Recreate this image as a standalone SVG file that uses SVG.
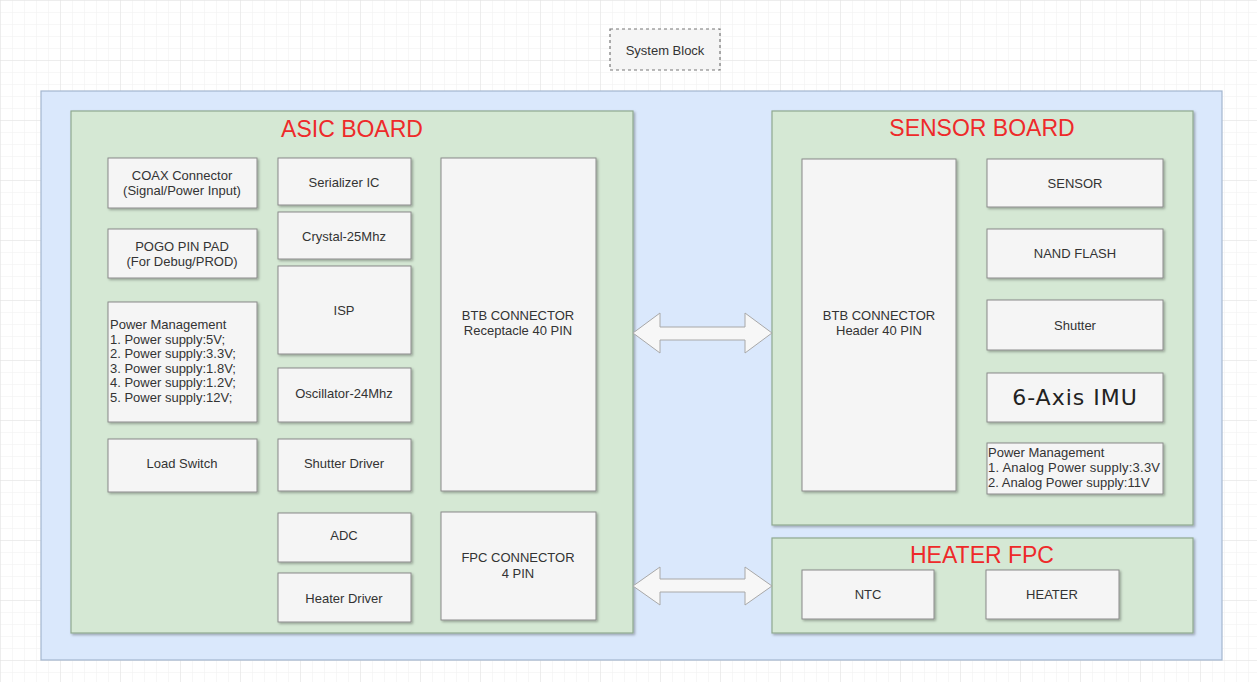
<svg xmlns="http://www.w3.org/2000/svg" width="1257" height="682" viewBox="0 0 1257 682">
<defs>
<pattern id="minor" width="12" height="12" patternUnits="userSpaceOnUse">
<path d="M12 0H0V12" fill="none" stroke="#f0f0f0" stroke-width="1"/>
</pattern>
<pattern id="major" width="60" height="60" patternUnits="userSpaceOnUse">
<rect width="60" height="60" fill="url(#minor)"/>
<path d="M60 0H0V60" fill="none" stroke="#e2e2e2" stroke-width="1"/>
</pattern>
<filter id="sh" x="-10%" y="-10%" width="130%" height="130%">
<feDropShadow dx="1.5" dy="1.5" stdDeviation="0.8" flood-color="#000" flood-opacity="0.3"/>
</filter>
</defs>
<style>
.box{fill:#f5f5f5;stroke:#8a8a8a;stroke-width:1;filter:url(#sh)}
.board{fill:#d5e8d4;stroke:#8fa88f;stroke-width:1.2;filter:url(#sh)}
.t{font-family:"Liberation Sans",Arial,sans-serif;font-size:13px;fill:#333;text-anchor:middle}
.tl{font-family:"Liberation Sans",Arial,sans-serif;font-size:13px;fill:#333}
.title{font-family:"Liberation Sans",Arial,sans-serif;font-size:23px;fill:#ee2a2a;text-anchor:middle}
.arrow{fill:#f7f7f7;stroke:#a8a8a8;stroke-width:1}
</style>
<rect width="1257" height="682" fill="#ffffff"/>
<rect width="1257" height="682" fill="url(#major)"/>

<g id="system-block">
<rect x="610" y="29" width="110" height="41" fill="#f5f5f5" stroke="#777" stroke-width="1.2" stroke-dasharray="3,3"/>
<text class="t" x="665" y="55" font-size="14">System Block</text>
</g>

<g id="system">
<rect x="41" y="91" width="1181" height="569" fill="#dae8fc" stroke="#a4b6cf" stroke-width="1.2"/>
</g>

<g id="asic-board">
<rect class="board" x="71" y="111" width="562" height="522"/>
<text class="title" x="352" y="137">ASIC BOARD</text>
</g>

<g id="coax"><rect class="box" x="108" y="158" width="149" height="50"/>
<text class="t" x="182" y="180">COAX Connector</text><text class="t" x="182" y="195">(Signal/Power Input)</text></g>
<g id="pogo"><rect class="box" x="108" y="229" width="149" height="49"/>
<text class="t" x="182" y="251">POGO PIN PAD</text><text class="t" x="182" y="266">(For Debug/PROD)</text></g>
<g id="asic-power"><rect class="box" x="108" y="302" width="149" height="120"/>
<text class="tl" x="110" y="329">Power Management</text>
<text class="tl" x="110" y="344">1. Power supply:5V;</text>
<text class="tl" x="110" y="358">2. Power supply:3.3V;</text>
<text class="tl" x="110" y="373">3. Power supply:1.8V;</text>
<text class="tl" x="110" y="387">4. Power supply:1.2V;</text>
<text class="tl" x="110" y="402">5. Power supply:12V;</text></g>
<g id="load-switch"><rect class="box" x="108" y="439" width="149" height="53"/>
<text class="t" x="182" y="468">Load Switch</text></g>

<g id="serializer"><rect class="box" x="278" y="158" width="133" height="47"/>
<text class="t" x="344" y="187">Serializer IC</text></g>
<g id="crystal"><rect class="box" x="278" y="212" width="133" height="47"/>
<text class="t" x="344" y="241">Crystal-25Mhz</text></g>
<g id="isp"><rect class="box" x="278" y="266" width="133" height="88"/>
<text class="t" x="344" y="315">ISP</text></g>
<g id="oscillator"><rect class="box" x="278" y="368" width="133" height="54"/>
<text class="t" x="344" y="398">Oscillator-24Mhz</text></g>
<g id="shutter-driver"><rect class="box" x="278" y="439" width="133" height="52"/>
<text class="t" x="344" y="468">Shutter Driver</text></g>
<g id="adc"><rect class="box" x="278" y="513" width="133" height="49"/>
<text class="t" x="344" y="540">ADC</text></g>
<g id="heater-driver"><rect class="box" x="278" y="573" width="133" height="49"/>
<text class="t" x="344" y="603">Heater Driver</text></g>

<g id="btb-receptacle"><rect class="box" x="441" y="158" width="155" height="333"/>
<text class="t" x="518" y="320">BTB CONNECTOR</text><text class="t" x="518" y="335">Receptacle 40 PIN</text></g>
<g id="fpc-connector"><rect class="box" x="441" y="512" width="155" height="108"/>
<text class="t" x="518" y="562">FPC CONNECTOR</text><text class="t" x="518" y="578">4 PIN</text></g>

<g id="sensor-board">
<rect class="board" x="772" y="111" width="421" height="414"/>
<text class="title" x="982" y="136">SENSOR BOARD</text>
</g>
<g id="btb-header"><rect class="box" x="802" y="159" width="154" height="332"/>
<text class="t" x="879" y="320">BTB CONNECTOR</text><text class="t" x="879" y="335">Header 40 PIN</text></g>
<g id="sensor"><rect class="box" x="987" y="159" width="176" height="48"/>
<text class="t" x="1075" y="188">SENSOR</text></g>
<g id="nand"><rect class="box" x="987" y="229" width="176" height="49"/>
<text class="t" x="1075" y="258">NAND FLASH</text></g>
<g id="shutter"><rect class="box" x="987" y="300" width="176" height="50"/>
<text class="t" x="1075" y="330">Shutter</text></g>
<g id="imu"><rect class="box" x="987" y="373" width="176" height="49"/>
<text class="t" x="1075" y="405" style="font-family:'DejaVu Sans',sans-serif;font-size:22px;letter-spacing:1px;fill:#222">6-Axis IMU</text></g>
<g id="sensor-power"><rect class="box" x="987" y="443" width="176" height="51"/>
<text class="tl" x="988" y="457">Power Management</text>
<text class="tl" x="988" y="472" textLength="172" lengthAdjust="spacing">1. Analog Power supply:3.3V</text>
<text class="tl" x="988" y="487">2. Analog Power supply:11V</text></g>

<g id="heater-fpc">
<rect class="board" x="772" y="538" width="421" height="95"/>
<text class="title" x="982" y="563" font-size="25">HEATER FPC</text>
</g>
<g id="ntc"><rect class="box" x="802" y="570" width="132" height="49"/>
<text class="t" x="868" y="599">NTC</text></g>
<g id="heater"><rect class="box" x="986" y="570" width="133" height="49"/>
<text class="t" x="1052" y="599">HEATER</text></g>

<g id="connectors">
<polygon class="arrow" points="633,333 660,313 660,327 745,327 745,313 772,333 745,353 745,340 660,340 660,353"/>
<polygon class="arrow" points="633,586 660,567 660,579 745,579 745,567 772,586 745,605 745,592 660,592 660,605"/>
</g>
</svg>
